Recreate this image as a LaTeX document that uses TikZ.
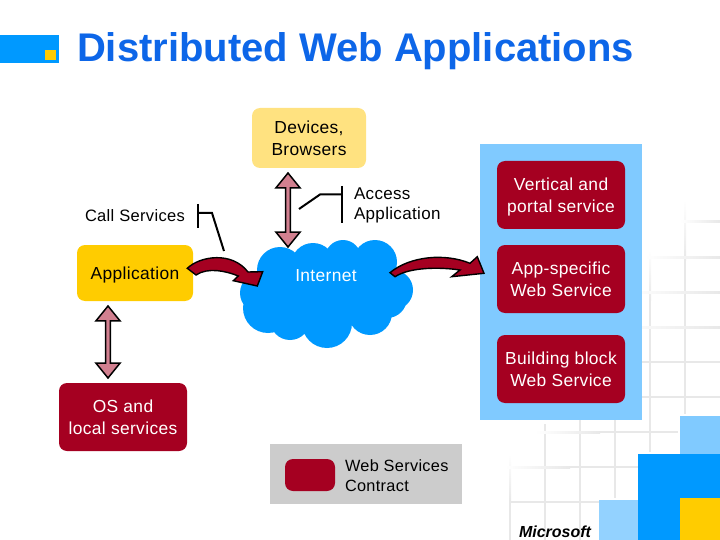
\documentclass[tikz,border=0pt]{standalone}
\usepackage{fontspec}
\setmainfont{Liberation Sans}
\usetikzlibrary{shapes.arrows}
\definecolor{brandblue}{RGB}{0,153,255}
\definecolor{paleblue}{RGB}{128,202,255}
\definecolor{titleblue}{RGB}{13,102,232}
\definecolor{sunny}{RGB}{255,204,0}
\definecolor{palesun}{RGB}{255,226,128}
\definecolor{wine}{RGB}{165,0,33}
\definecolor{rose}{RGB}{210,128,144}
\definecolor{gridgrey}{RGB}{232,232,232}
\newcommand{\bodyfont}{\fontsize{17.4}{22}\selectfont\addfontfeature{LetterSpace=2}}
\newcommand{\notefont}{\fontsize{17}{20}\selectfont\addfontfeature{LetterSpace=2}}
\newcommand{\legendfont}{\fontsize{16.3}{20}\selectfont\addfontfeature{LetterSpace=2}}
\newcommand{\callfont}{\fontsize{16.5}{20}\selectfont\addfontfeature{LetterSpace=2}}
\tikzset{
  every node/.style={inner sep=0pt,outer sep=0pt},
  pill/.style={rounded corners=8pt,minimum width=#1},
  wine box/.style={pill=128pt,fill=wine,text=white,align=center,font=\bodyfont},
  leader/.style={line width=2pt,black},
  block arrow/.style={draw=black,line width=1.4pt,fill=wine,line join=miter},
  both arrow/.style={shape=double arrow,draw=black,line width=1.5pt,fill=rose,rotate=90,
    minimum width=24pt,double arrow head extend=3.2pt,double arrow tip angle=78},
  note/.style={align=left,anchor=west},
  vgrid/.style={fill=gridgrey},
}
\begin{document}
\begin{tikzpicture}[x=1pt,y=-1pt]
\useasboundingbox (0,0) rectangle (720,540);
% faint window grid
\shade[top color=white,bottom color=gridgrey] (684,200) rectangle (686,260);
\fill[vgrid] (684,260) rectangle (686,414);
\shade[top color=white,bottom color=gridgrey] (649,250) rectangle (651,300);
\fill[vgrid] (649,300) rectangle (651,452);
\fill[vgrid] (614,420) rectangle (616,498);
\fill[vgrid] (579,420) rectangle (581,540);
\fill[vgrid] (544,424) rectangle (546,540);
\shade[top color=white,bottom color=gridgrey] (509,455) rectangle (511,500);
\fill[vgrid] (509,500) rectangle (511,540);
\shade[left color=white,right color=gridgrey] (680,221) rectangle (720,223);
\shade[left color=white,right color=gridgrey] (645,256) rectangle (720,258);
\shade[left color=white,right color=gridgrey] (625,291) rectangle (720,293);
\shade[left color=white,right color=gridgrey] (610,326) rectangle (720,328);
\fill[vgrid] (625,361) rectangle (720,363);
\fill[vgrid] (642,396) rectangle (720,398);
\shade[left color=white,right color=gridgrey] (535,431) rectangle (600,433);
\fill[vgrid] (600,431) rectangle (678,433);
\shade[left color=white,right color=gridgrey] (505,466) rectangle (570,468);
\fill[vgrid] (570,466) rectangle (638,468);
\fill[vgrid] (510,501) rectangle (599,503);
% corner squares
\fill[paleblue] (680,416) rectangle (720,454);
\fill[paleblue!85!white] (599,500) rectangle (638,540);
\fill[brandblue] (638,454) rectangle (720,540);
\fill[sunny] (680,498) rectangle (720,540);
\node[anchor=base west,font=\fontsize{16}{18}\bfseries\itshape\selectfont] (logo) at (519,537) {Microsoft};
% header
\fill[brandblue] (0,35) rectangle (59,63);
\fill[sunny] (45,50) rectangle (56,60);
\node[anchor=base west,font=\fontsize{40}{44}\bfseries\selectfont,text=titleblue] (title) at (77,61.5) {Distributed Web Applications};
% service panel
\fill[paleblue] (480,144) rectangle (642,420);
\node[wine box,minimum height=68pt] (vert) at (561,195) {\rule{0pt}{16.5pt}Vertical and\\portal service};
\node[wine box,minimum height=68pt] (appspec) at (561,279) {App-specific\\Web Service};
\node[wine box,minimum height=68pt] (block) at (561,369) {Building block\\Web Service};
% boxes at the left
\node[pill=114pt,minimum height=60pt,fill=palesun,align=center,font=\bodyfont] (devices) at (309,138) {Devices,\\Browsers};
\node[pill=116pt,minimum height=56pt,fill=sunny,font=\bodyfont,text depth=0pt] (app) at (135,273) {Application};
\node[wine box,minimum height=68pt] (os) at (123,417) {OS and\\local services};
% cloud
\fill[brandblue]
  (280,270) circle[radius=23] (313,265) circle[radius=22] (343,258) circle[radius=18]
  (375,262) circle[radius=22] (393,290) circle[radius=20] (387,298) circle[radius=20]
  (260,293) circle[radius=20] (268,308) circle[radius=25] (290,320) circle[radius=20]
  (327,323) circle[radius=25] (370,313) circle[radius=22]
  (326,290) ellipse[x radius=65,y radius=35];
\node[font=\bodyfont,text=white] (internet) at (326,276) {Internet};
% double arrows
\node[both arrow,minimum height=74pt] (updown) at (288,210) {};
\node[both arrow,minimum height=72pt] (osarrow) at (108,342) {};
% curved block arrows
\draw[block arrow] (187.3,268.3) .. controls (200,256) and (232,251) .. (248,272)
  -- (262.7,271.7) -- (257.3,286) -- (233.3,280.7) -- (238.3,276)
  .. controls (226,271) and (208,267) .. (196,275) -- cycle;
\draw[block arrow] (390,272.7) .. controls (410,256) and (445,253) .. (470,263.3)
  -- (477.3,256.7) -- (484,273.3) -- (451.7,276.7) -- (460,270)
  .. controls (440,267) and (410,267) .. (395,276.7) -- cycle;
% leaders and labels
\node[note,font=\notefont] (access) at (354,205) {Access\\Application};
\node[anchor=west,font=\callfont] (calls) at (85,216) {Call Services};
\coordinate (accessfoot) at (299,209);
\coordinate (callfoot) at (224,251);
\draw[leader] (342,186) -- (342,223);
\draw[leader] (342,194.5) -- (320,194.5) -- (accessfoot);
\draw[leader] (198,204) -- (198,228);
\draw[leader] (198,213) -- (212,213) -- (callfoot);
% legend
\fill[gray!40] (270,444) rectangle (462,504);
\node[pill=50pt,minimum height=32pt,fill=wine] (swatch) at (310,475) {};
\node[note,font=\legendfont] (contract) at (345,475.5) {Web Services\\Contract};
\end{tikzpicture}
\end{document}
